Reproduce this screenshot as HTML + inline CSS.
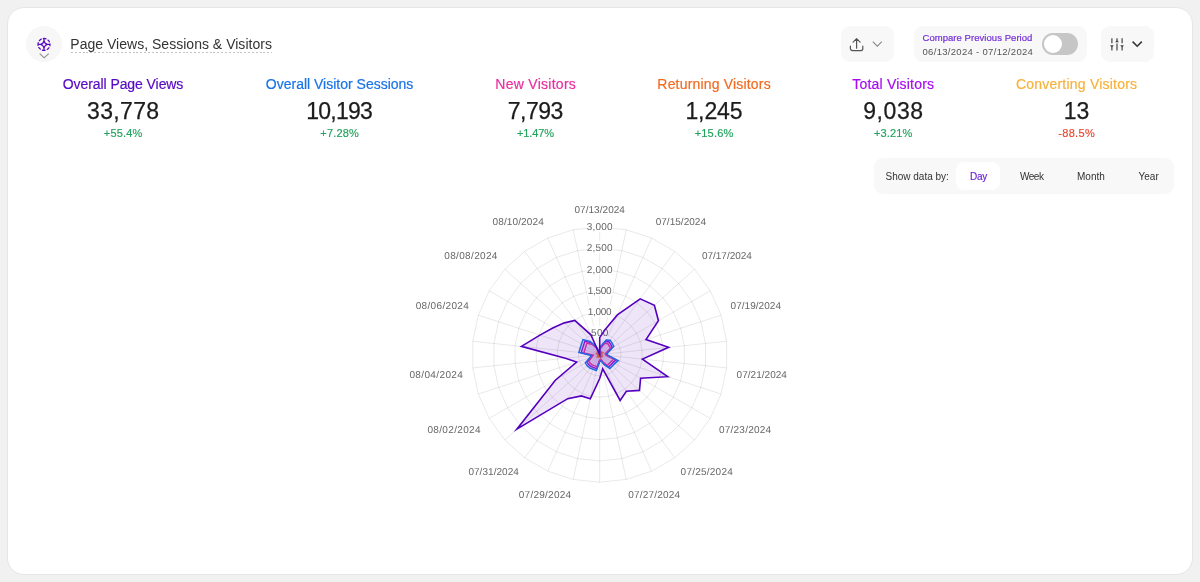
<!DOCTYPE html>
<html lang="en">
<head>
<meta charset="utf-8">
<title>Page Views, Sessions &amp; Visitors</title>
<style>
*{box-sizing:border-box;margin:0;padding:0}
html,body{width:1200px;height:582px;overflow:hidden;background:#f1f1f1}
body{font-family:"Liberation Sans",Arial,sans-serif;color:#222;position:relative}
.card{position:absolute;left:7px;top:7px;width:1185.5px;height:567.5px;background:#fff;border:1px solid #e6e6e6;border-radius:17px}
.abs{position:absolute;white-space:nowrap}
.iconc{position:absolute;left:26px;top:26px;width:36px;height:36px;border-radius:50%;background:#f7f7f7}
.title{left:70.3px;top:35.4px;font-size:14px;line-height:18px;color:#333;letter-spacing:0.02px}
.tul{position:absolute;left:71px;top:52px;width:201px;height:1px;background:repeating-linear-gradient(to right,#c4c4c4 0,#c4c4c4 2px,transparent 2px,transparent 3.85px)}
.btn{position:absolute;top:26px;height:36px;background:#f8f8f8;border-radius:9px}
.cmp1{left:922.5px;top:32px;font-size:9.5px;line-height:11px;color:#7430d8;letter-spacing:0.05px;-webkit-text-stroke:0.2px #7430d8}
.cmp2{left:922.5px;top:45.5px;font-size:9.5px;line-height:11px;color:#555;letter-spacing:0.31px}
.toggle{position:absolute;left:1042px;top:33px;width:36px;height:22px;border-radius:11px;background:#c6c6c6}
.toggle i{position:absolute;left:2px;top:2px;width:18px;height:18px;border-radius:50%;background:#fff}
.kpi{position:absolute;top:0;width:200px;text-align:center;white-space:nowrap}
.kt{position:absolute;left:0;right:0;top:75px;font-size:14px;line-height:18px;-webkit-text-stroke:0.2px currentColor}
.kn{position:absolute;left:0;right:0;top:97.3px;font-size:23px;line-height:28px;color:#1c1c1c;-webkit-text-stroke:0.25px #1c1c1c}
.kp{position:absolute;left:0;right:0;top:127px;font-size:11px;line-height:13px;-webkit-text-stroke:0.15px currentColor}
.seg{position:absolute;left:874px;top:158px;width:299.5px;height:36px;background:#f8f8f8;border-radius:9px}
.pill{position:absolute;left:956px;top:162px;width:44px;height:28px;background:#fff;border-radius:8px}
.st{font-size:10px;line-height:12px;top:170.5px;color:#333}
.chart{position:absolute;left:0;top:0}
.chart text{font-family:"Liberation Sans",Arial,sans-serif;text-rendering:geometricPrecision}
svg.ic{position:absolute;overflow:visible}
</style>
</head>
<body>
<div class="card"></div>
<div class="iconc"></div>
<svg class="ic" style="left:36px;top:36px" width="16" height="24" viewBox="0 0 16 24">
  <g transform="translate(8 8.45)">
    <circle cx="0" cy="0" r="6" fill="none" stroke="#5709c4" stroke-width="1.25" stroke-dasharray="3.77 1.2 3.25 1.2" stroke-dashoffset="1.885"/>
    <path fill="#5709c4" fill-rule="evenodd" d="M-0.65-6H0.65V-3.6Q1.15-1.15 3.6-0.65H6V0.65H3.6Q1.15 1.15 0.65 3.6V6H-0.65V3.6Q-1.15 1.15-3.6 0.65H-6V-0.65H-3.6Q-1.15-1.15-0.65-3.6ZM0-1.7L1.7 0L0 1.7L-1.7 0Z"/>
  </g>
  <path d="M3.7 17.7 L8.2 21.8 L12.7 17.7" fill="none" stroke="#8a8a8a" stroke-width="1.1"/>
</svg>
<div class="abs title">Page Views, Sessions &amp; Visitors</div>
<div class="tul"></div>

<div class="btn" style="left:841px;width:52.5px"></div>
<svg class="ic" style="left:849px;top:37px" width="34" height="16" viewBox="0 0 34 16">
  <g fill="none" stroke="#555" stroke-width="1.2" stroke-linecap="round" stroke-linejoin="round">
    <path d="M1.4 9.2V11.4a2.2 2.2 0 0 0 2.2 2.2H11.6a2.2 2.2 0 0 0 2.2 -2.2V9.2"/>
    <path d="M7.6 11.2V1.8M4.1 5.2L7.6 1.7L11.1 5.2"/>
  </g>
  <path d="M23.8 4.6 L28.3 9.2 L32.8 4.6" fill="none" stroke="#8a8a8a" stroke-width="1.1"/>
</svg>

<div class="btn" style="left:914px;width:173px"></div>
<div class="abs cmp1">Compare Previous Period</div>
<div class="abs cmp2">06/13/2024 - 07/12/2024</div>
<div class="toggle"><i></i></div>

<div class="btn" style="left:1101px;width:52.5px"></div>
<svg class="ic" style="left:1109px;top:37px" width="36" height="16" viewBox="0 0 36 16">
  <g fill="none" stroke="#444" stroke-width="1.2">
    <path d="M2.9 1.2V6.2M2.9 9.2V13.4M8 1.2V3.4M8 6.4V13.6M13.1 1.2V6.2M13.1 9.2V13.4"/>
  </g>
  <g fill="#444"><path d="M1 8.2H4.8L2.9 10.6Z"/><path d="M6.1 5.2H9.9L8 2.8Z"/><path d="M11.2 8.2H15L13.1 10.6Z"/></g>
  <path d="M23.6 4.6 L28.2 9.2 L32.8 4.6" fill="none" stroke="#333" stroke-width="1.5"/>
</svg>

<div class="kpi" style="left:23.1px"><div class="kt" style="color:#5709c4;letter-spacing:-0.08px;margin-left:-0.08px">Overall Page Views</div><div class="kn" style="letter-spacing:0.32px;margin-left:0.32px">33,778</div><div class="kp" style="color:#1fa35c;letter-spacing:0.2px;margin-left:0.2px">+55.4%</div></div>
<div class="kpi" style="left:239.6px"><div class="kt" style="color:#1a73e8;letter-spacing:0.0px;margin-left:0.0px">Overall Visitor Sessions</div><div class="kn" style="letter-spacing:-0.75px;margin-left:-0.75px">10,193</div><div class="kp" style="color:#1fa35c;letter-spacing:0.2px;margin-left:0.2px">+7.28%</div></div>
<div class="kpi" style="left:435.6px"><div class="kt" style="color:#e8309f;letter-spacing:0.27px;margin-left:0.27px">New Visitors</div><div class="kn" style="letter-spacing:-0.5px;margin-left:-0.5px">7,793</div><div class="kp" style="color:#1fa35c;letter-spacing:-0.1px;margin-left:-0.1px">+1.47%</div></div>
<div class="kpi" style="left:614.0px"><div class="kt" style="color:#f26b21;letter-spacing:0.18px;margin-left:0.18px">Returning Visitors</div><div class="kn" style="letter-spacing:-0.12px;margin-left:-0.12px">1,245</div><div class="kp" style="color:#1fa35c;letter-spacing:0.2px;margin-left:0.2px">+15.6%</div></div>
<div class="kpi" style="left:793.2px"><div class="kt" style="color:#a60cf0;letter-spacing:0.2px;margin-left:0.2px">Total Visitors</div><div class="kn" style="letter-spacing:0.6px;margin-left:0.6px">9,038</div><div class="kp" style="color:#1fa35c;letter-spacing:0.15px;margin-left:0.15px">+3.21%</div></div>
<div class="kpi" style="left:976.5px"><div class="kt" style="color:#f7b23b;letter-spacing:0.22px;margin-left:0.22px">Converting Visitors</div><div class="kn" style="letter-spacing:0.1px;margin-left:0.1px">13</div><div class="kp" style="color:#e8452c;letter-spacing:0.3px;margin-left:0.3px">-88.5%</div></div>

<div class="seg"></div>
<div class="pill"></div>
<div class="abs st" style="left:885.5px">Show data by:</div>
<div class="abs st" style="left:970px;color:#6a22d4;letter-spacing:-0.3px;-webkit-text-stroke:0.15px #6a22d4">Day</div>
<div class="abs st" style="left:1020px;letter-spacing:-0.5px">Week</div>
<div class="abs st" style="left:1077px">Month</div>
<div class="abs st" style="left:1138.5px">Year</div>

<svg class="chart" width="1200" height="582" viewBox="0 0 1200 582">
<g stroke="#000" stroke-opacity="0.09" stroke-width="1" fill="none"><line x1="599.70" y1="354.60" x2="599.70" y2="226.98"/><line x1="599.70" y1="354.60" x2="626.23" y2="229.77"/><line x1="599.70" y1="354.60" x2="651.61" y2="238.01"/><line x1="599.70" y1="354.60" x2="674.71" y2="251.35"/><line x1="599.70" y1="354.60" x2="694.54" y2="269.21"/><line x1="599.70" y1="354.60" x2="710.22" y2="290.79"/><line x1="599.70" y1="354.60" x2="721.07" y2="315.16"/><line x1="599.70" y1="354.60" x2="726.62" y2="341.26"/><line x1="599.70" y1="354.60" x2="726.62" y2="367.94"/><line x1="599.70" y1="354.60" x2="721.07" y2="394.04"/><line x1="599.70" y1="354.60" x2="710.22" y2="418.41"/><line x1="599.70" y1="354.60" x2="694.54" y2="439.99"/><line x1="599.70" y1="354.60" x2="674.71" y2="457.85"/><line x1="599.70" y1="354.60" x2="651.61" y2="471.19"/><line x1="599.70" y1="354.60" x2="626.23" y2="479.43"/><line x1="599.70" y1="354.60" x2="599.70" y2="482.22"/><line x1="599.70" y1="354.60" x2="573.17" y2="479.43"/><line x1="599.70" y1="354.60" x2="547.79" y2="471.19"/><line x1="599.70" y1="354.60" x2="524.69" y2="457.85"/><line x1="599.70" y1="354.60" x2="504.86" y2="439.99"/><line x1="599.70" y1="354.60" x2="489.18" y2="418.41"/><line x1="599.70" y1="354.60" x2="478.33" y2="394.04"/><line x1="599.70" y1="354.60" x2="472.78" y2="367.94"/><line x1="599.70" y1="354.60" x2="472.78" y2="341.26"/><line x1="599.70" y1="354.60" x2="478.33" y2="315.16"/><line x1="599.70" y1="354.60" x2="489.18" y2="290.79"/><line x1="599.70" y1="354.60" x2="504.86" y2="269.21"/><line x1="599.70" y1="354.60" x2="524.69" y2="251.35"/><line x1="599.70" y1="354.60" x2="547.79" y2="238.01"/><line x1="599.70" y1="354.60" x2="573.17" y2="229.77"/>
<polygon points="599.70,333.33 604.12,333.79 608.35,335.17 612.20,337.39 615.51,340.37 618.12,343.97 619.93,348.03 620.85,352.38 620.85,356.82 619.93,361.17 618.12,365.24 615.51,368.83 612.20,371.81 608.35,374.03 604.12,375.41 599.70,375.87 595.28,375.41 591.05,374.03 587.20,371.81 583.89,368.83 581.28,365.24 579.47,361.17 578.55,356.82 578.55,352.38 579.47,348.03 581.28,343.97 583.89,340.37 587.20,337.39 591.05,335.17 595.28,333.79"/>
<polygon points="599.70,312.06 608.54,312.99 617.00,315.74 624.70,320.18 631.31,326.14 636.54,333.33 640.16,341.45 642.01,350.15 642.01,359.05 640.16,367.75 636.54,375.87 631.31,383.06 624.70,389.02 617.00,393.46 608.54,396.21 599.70,397.14 590.86,396.21 582.40,393.46 574.70,389.02 568.09,383.06 562.86,375.87 559.24,367.75 557.39,359.05 557.39,350.15 559.24,341.45 562.86,333.33 568.09,326.14 574.70,320.18 582.40,315.74 590.86,312.99"/>
<polygon points="599.70,290.79 612.97,292.18 625.65,296.31 637.21,302.98 647.12,311.90 654.96,322.69 660.39,334.88 663.16,347.93 663.16,361.27 660.39,374.32 654.96,386.50 647.12,397.30 637.21,406.22 625.65,412.89 612.97,417.02 599.70,418.41 586.43,417.02 573.75,412.89 562.19,406.22 552.28,397.30 544.44,386.51 539.01,374.32 536.24,361.27 536.24,347.93 539.01,334.88 544.44,322.69 552.28,311.90 562.19,302.98 573.75,296.31 586.43,292.18"/>
<polygon points="599.70,269.52 617.39,271.38 634.31,276.88 649.71,285.77 662.93,297.67 673.38,312.06 680.62,328.31 684.31,345.71 684.31,363.49 680.62,380.89 673.38,397.14 662.93,411.53 649.71,423.43 634.31,432.32 617.39,437.82 599.70,439.68 582.01,437.82 565.09,432.32 549.69,423.43 536.47,411.53 526.02,397.14 518.78,380.89 515.09,363.49 515.09,345.71 518.78,328.31 526.02,312.06 536.47,297.67 549.69,285.77 565.09,276.88 582.01,271.38"/>
<polygon points="599.70,248.25 621.81,250.57 642.96,257.44 662.21,268.56 678.73,283.44 691.80,301.43 700.84,321.74 705.47,343.48 705.47,365.72 700.84,387.46 691.80,407.77 678.73,425.76 662.21,440.64 642.96,451.76 621.81,458.63 599.70,460.95 577.59,458.63 556.44,451.76 537.19,440.64 520.67,425.76 507.60,407.78 498.56,387.46 493.93,365.72 493.93,343.48 498.56,321.74 507.60,301.43 520.67,283.44 537.19,268.56 556.44,257.44 577.59,250.57"/>
<polygon points="599.70,226.98 626.23,229.77 651.61,238.01 674.71,251.35 694.54,269.21 710.22,290.79 721.07,315.16 726.62,341.26 726.62,367.94 721.07,394.04 710.22,418.41 694.54,439.99 674.71,457.85 651.61,471.19 626.23,479.43 599.70,482.22 573.17,479.43 547.79,471.19 524.69,457.85 504.86,439.99 489.18,418.41 478.33,394.04 472.78,367.94 472.78,341.26 478.33,315.16 489.18,290.79 504.86,269.21 524.69,251.35 547.79,238.01 573.17,229.77"/>
</g>
<g font-size="10" fill="#666" text-anchor="middle">
<rect x="591.20" y="325.83" width="17" height="13" fill="#fff" fill-opacity="0.75"/>
<text x="599.70" y="336.43" textLength="17.44" lengthAdjust="spacing">500</text>
<rect x="586.70" y="304.56" width="26" height="13" fill="#fff" fill-opacity="0.75"/>
<text x="599.70" y="315.16" textLength="23.89" lengthAdjust="spacing">1,000</text>
<rect x="586.70" y="283.29" width="26" height="13" fill="#fff" fill-opacity="0.75"/>
<text x="599.70" y="293.89" textLength="23.78" lengthAdjust="spacing">1,500</text>
<rect x="586.70" y="262.02" width="26" height="13" fill="#fff" fill-opacity="0.75"/>
<text x="599.70" y="272.62" textLength="25.79" lengthAdjust="spacing">2,000</text>
<rect x="586.70" y="240.75" width="26" height="13" fill="#fff" fill-opacity="0.75"/>
<text x="599.70" y="251.35" textLength="25.67" lengthAdjust="spacing">2,500</text>
<rect x="586.70" y="219.48" width="26" height="13" fill="#fff" fill-opacity="0.75"/>
<text x="599.70" y="230.08" textLength="25.66" lengthAdjust="spacing">3,000</text>
</g>
<polygon points="599.70,354.60 599.70,354.60 599.70,354.60 599.70,354.60 599.70,354.60 599.70,354.60 599.70,354.60 599.70,354.60 599.70,354.60 599.70,354.60 599.70,354.60 599.70,354.60 599.70,354.60 599.70,354.60 599.70,354.60 599.70,354.60 599.70,354.60 599.70,354.60 599.70,354.60 599.70,354.60 599.70,354.60 599.70,354.60 599.70,354.60 599.70,354.60 599.70,354.60 599.70,354.60 599.70,354.60 599.70,354.60 599.70,354.60 599.70,354.60" fill="#f7b23b" fill-opacity="0.1" stroke="#f7b23b" stroke-width="1.5" stroke-linejoin="miter" stroke-miterlimit="10"/>
<polygon points="599.70,347.96 601.45,346.36 605.48,341.62 608.98,341.83 610.76,344.64 612.23,347.37 607.71,352.00 605.96,353.94 607.19,355.39 616.05,359.91 613.22,362.41 610.99,364.76 608.73,367.02 603.68,363.54 600.86,360.05 599.70,360.90 596.68,368.79 593.90,367.62 591.00,366.58 588.64,364.56 586.95,361.96 590.68,357.53 592.30,355.38 581.25,352.66 582.38,348.97 583.56,345.28 584.87,341.25 591.17,342.86 596.50,347.41 599.51,353.73" fill="#a414d6" fill-opacity="0.1" stroke="#a414d6" stroke-width="1.5" stroke-linejoin="miter" stroke-miterlimit="10"/>
<polygon points="599.70,354.00 599.86,353.85 600.60,352.58 601.50,352.12 601.47,353.01 602.57,352.94 601.72,353.94 600.38,354.53 600.29,354.66 601.93,355.32 602.28,356.09 601.34,356.08 601.40,356.94 600.48,356.35 599.82,355.18 599.70,355.28 599.26,356.68 598.56,357.16 598.35,356.46 597.42,356.65 597.93,355.62 599.05,354.81 599.11,354.66 597.25,354.34 596.63,353.60 597.71,353.45 597.36,352.49 598.40,352.81 599.39,353.90 599.68,354.52" fill="#f26b21" fill-opacity="0.7" stroke="#f26b21" stroke-width="1.5" stroke-linejoin="miter" stroke-miterlimit="10"/>
<polygon points="599.70,348.86 601.21,347.48 604.68,343.41 607.70,343.59 609.25,346.00 610.49,348.37 606.62,352.35 605.12,354.03 606.17,355.28 613.82,359.19 611.38,361.34 609.44,363.37 607.48,365.30 603.13,362.29 600.70,359.30 599.70,360.05 597.09,366.88 594.70,365.83 592.20,364.92 590.15,363.20 588.72,360.94 591.93,357.12 593.31,355.27 583.79,352.93 584.77,349.75 585.77,346.56 586.90,343.07 592.32,344.45 596.93,348.38 599.54,353.85" fill="#e8309f" fill-opacity="0.1" stroke="#e8309f" stroke-width="1.5" stroke-linejoin="miter" stroke-miterlimit="10"/>
<polygon points="599.70,347.11 601.67,345.32 606.21,339.99 610.15,340.21 612.19,343.36 613.81,346.45 608.72,351.67 606.77,353.86 608.16,355.49 618.15,360.59 614.95,363.41 612.41,366.04 609.88,368.61 604.18,364.67 601.01,360.76 599.70,361.70 596.29,370.62 593.16,369.29 589.90,368.09 587.21,365.84 585.33,362.90 589.55,357.90 591.37,355.48 578.93,352.42 580.20,348.26 581.50,344.09 582.98,339.54 590.07,341.35 596.08,346.48 599.49,353.60" fill="#1a73e8" fill-opacity="0.1" stroke="#1a73e8" stroke-width="1.5" stroke-linejoin="miter" stroke-miterlimit="10"/>
<polygon points="599.70,337.58 605.01,329.63 617.35,314.96 640.21,298.85 654.39,305.36 658.46,320.67 646.02,339.55 668.66,347.35 642.43,359.09 667.67,376.68 640.59,378.21 639.47,390.41 626.38,391.32 620.12,400.46 602.72,368.83 599.70,378.46 590.29,398.87 581.31,395.91 567.69,398.65 516.87,429.18 555.34,380.21 576.64,362.09 565.43,358.20 521.43,346.37 539.90,335.17 553.21,327.76 564.45,322.86 574.82,320.36 590.88,334.78 599.70,354.60" fill="#5500be" fill-opacity="0.1" stroke="#5500be" stroke-width="1.6" stroke-linejoin="miter" stroke-miterlimit="10"/>
<g font-size="10" fill="#666">
<text x="599.70" y="212.83" text-anchor="middle" textLength="50.39" lengthAdjust="spacing">07/13/2024</text>
<text x="655.68" y="225.43" text-anchor="start" textLength="50.30" lengthAdjust="spacing">07/15/2024</text>
<text x="701.97" y="259.06" text-anchor="start" textLength="49.90" lengthAdjust="spacing">07/17/2024</text>
<text x="730.58" y="308.62" text-anchor="start" textLength="50.41" lengthAdjust="spacing">07/19/2024</text>
<text x="736.57" y="378.14" text-anchor="start" textLength="50.31" lengthAdjust="spacing">07/21/2024</text>
<text x="718.88" y="432.56" text-anchor="start" textLength="52.29" lengthAdjust="spacing">07/23/2024</text>
<text x="680.59" y="475.09" text-anchor="start" textLength="52.19" lengthAdjust="spacing">07/25/2024</text>
<text x="628.31" y="498.36" text-anchor="start" textLength="51.80" lengthAdjust="spacing">07/27/2024</text>
<text x="571.09" y="498.36" text-anchor="end" textLength="52.30" lengthAdjust="spacing">07/29/2024</text>
<text x="518.81" y="475.09" text-anchor="end" textLength="50.39" lengthAdjust="spacing">07/31/2024</text>
<text x="480.52" y="432.56" text-anchor="end" textLength="53.07" lengthAdjust="spacing">08/02/2024</text>
<text x="462.83" y="378.14" text-anchor="end" textLength="53.42" lengthAdjust="spacing">08/04/2024</text>
<text x="468.82" y="308.62" text-anchor="end" textLength="53.18" lengthAdjust="spacing">08/06/2024</text>
<text x="497.43" y="259.06" text-anchor="end" textLength="53.16" lengthAdjust="spacing">08/08/2024</text>
<text x="543.72" y="225.43" text-anchor="end" textLength="51.19" lengthAdjust="spacing">08/10/2024</text>
</g>
</svg>
</body>
</html>
